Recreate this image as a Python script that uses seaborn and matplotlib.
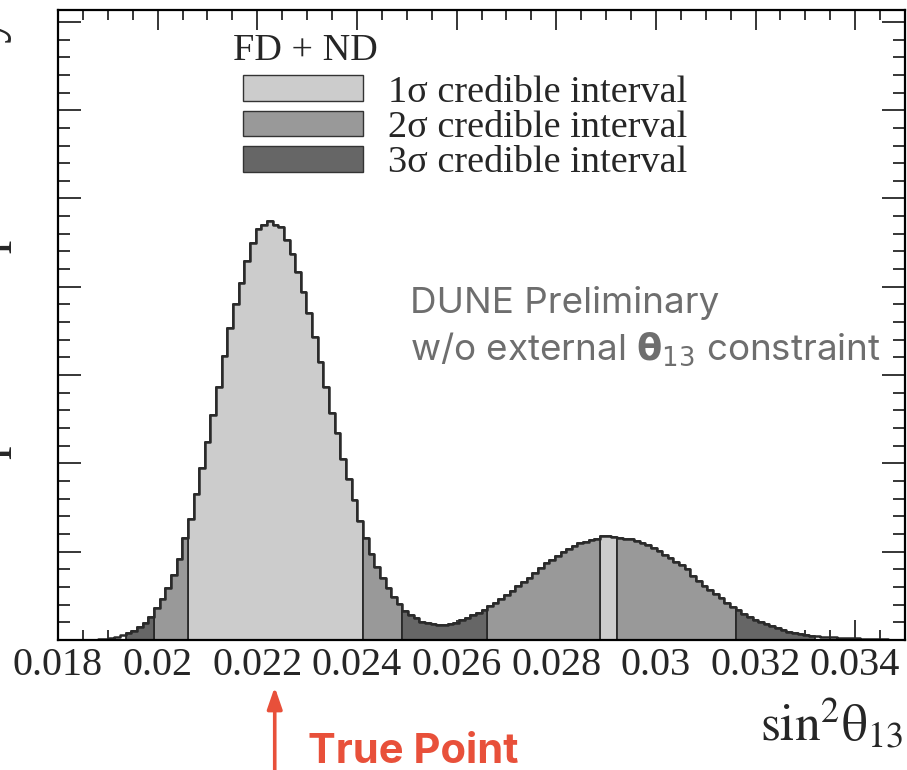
import numpy as np
import pandas as pd
import matplotlib
matplotlib.use("Agg")
import matplotlib.pyplot as plt
import seaborn as sns
from matplotlib.patches import Patch
from matplotlib.ticker import MultipleLocator, FixedLocator
from matplotlib.transforms import blended_transform_factory

# ---------------- data ----------------
X_MIN, X_MAX, N_BINS = 0.018, 0.035, 150

# posterior per bin (arbitrary units)
posterior = [
    0.1, 0.1, 0.1, 0.2, 0.3, 0.4, 0.5, 0.7, 1.0, 1.7,
    3.3, 4.7, 6.7, 9.3, 13.0, 17.3, 23.3, 31.7, 40.7, 52.3,
    64.7, 81.3, 101.7, 121.0, 146.0, 171.7, 198.3, 225.0, 252.7, 284.0,
    311.7, 335.7, 357.3, 379.3, 396.7, 411.0, 415.0, 419.3, 415.0, 412.7,
    400.0, 385.7, 368.3, 348.3, 326.7, 302.7, 277.7, 253.3, 226.7, 206.7,
    181.3, 160.7, 140.5, 119.3, 101.7, 86.0, 73.3, 61.7, 51.7, 43.3,
    35.7, 29.0, 25.0, 21.7, 18.3, 16.7, 15.7, 14.7, 15.0, 16.0,
    17.3, 20.0, 22.3, 25.0, 27.3, 29.7, 34.0, 37.3, 41.3, 45.0,
    49.3, 54.0, 58.0, 62.3, 67.3, 72.0, 76.7, 80.0, 84.0, 87.7,
    90.7, 94.0, 96.7, 98.0, 99.7, 101.3, 104.3, 104.3, 103.3, 102.3,
    101.3, 100.7, 99.0, 97.3, 94.7, 92.3, 89.0, 85.3, 81.7, 78.3,
    75.0, 70.7, 64.5, 59.0, 54.3, 50.0, 46.0, 41.7, 37.3, 32.7,
    30.0, 25.7, 22.7, 20.0, 17.7, 15.7, 14.0, 12.3, 10.0, 8.3,
    7.3, 6.3, 5.3, 4.3, 3.7, 3.2, 2.9, 2.6, 2.3, 2.0,
    1.8, 1.6, 1.4, 1.2, 1.0, 0.8, 0.7, 0.5, 0.4, 0.3,
]

# credible-interval membership, as [start, stop) bin index ranges
sigma1_bins = [(23, 54), (96, 99)]
sigma2_bins = [(17, 23), (54, 61), (76, 96), (99, 120)]
sigma3_bins = [(12, 17), (61, 76), (120, 134)]

level_names = ["1\u03c3 credible interval", "2\u03c3 credible interval", "3\u03c3 credible interval"]
level_colors = ["#cccccc", "#999999", "#666666"]
legend_title = "FD + ND"

x_tick_values = [0.018, 0.020, 0.022, 0.024, 0.026, 0.028, 0.030, 0.032, 0.034]
x_tick_labels = ["0.018", "0.02", "0.022", "0.024", "0.026", "0.028", "0.03", "0.032", "0.034"]
Y_MAJOR = 88.3      # major y tick spacing in posterior units
Y_MAX = 630.0

true_point = 0.02235

# ---------------- build table ----------------
edges = np.linspace(X_MIN, X_MAX, N_BINS + 1)
centers = 0.5 * (edges[:-1] + edges[1:])
level = np.array(["outside"] * N_BINS, dtype=object)
for name, ranges in zip(level_names, [sigma1_bins, sigma2_bins, sigma3_bins]):
    for a, b in ranges:
        level[a:b] = name
df = pd.DataFrame({"sin2th13": centers, "posterior": posterior, "level": level})

# ---------------- style ----------------
sns.set_style("ticks")
plt.rcParams["font.family"] = ["Liberation Serif", "DejaVu Serif"]

W, H = 907, 770
fig = plt.figure(figsize=(W / 100, H / 100), dpi=100)
ax = fig.add_axes([58 / W, (H - 640) / H, (905 - 58) / W, (640 - 10) / H])

EDGE = "#2a2a2a"
hist_kw = dict(x="sin2th13", weights="posterior", bins=N_BINS,
               binrange=(X_MIN, X_MAX), element="step", ax=ax)
for name, color in zip(level_names, level_colors):
    sub = df[df["level"] == name]
    sns.histplot(data=sub, fill=True, color=color, alpha=1.0,
                 edgecolor=EDGE, linewidth=1.3, **hist_kw)

sns.histplot(data=df, fill=False, color=EDGE, linewidth=1.8, **hist_kw)

ax.set_xlim(X_MIN, X_MAX)
ax.set_ylim(0, Y_MAX)
ax.set_xlabel("")
ax.set_ylabel("")

ax.xaxis.set_major_locator(FixedLocator(x_tick_values))
ax.set_xticklabels(x_tick_labels)
ax.xaxis.set_minor_locator(MultipleLocator(0.0005))
ax.yaxis.set_major_locator(MultipleLocator(Y_MAJOR))
ax.yaxis.set_minor_locator(MultipleLocator(Y_MAJOR / 5))

for s in ax.spines.values():
    s.set_visible(True)
    s.set_linewidth(1.6)
    s.set_color("black")

ax.tick_params(which="both", direction="in", top=True, right=True, width=1.1, color="black")
ax.tick_params(axis="x", which="major", length=14.5, labelsize=29, pad=5)
ax.tick_params(axis="x", which="minor", length=7.5)
ax.tick_params(axis="y", which="major", length=16.5, labelleft=False)
ax.tick_params(axis="y", which="minor", length=8.5)

# x-axis title at the end of the axis (ROOT style)
fig.text(903 / W, (H - 741) / H, r"$\mathrm{sin}^{2}\mathrm{\theta}_{13}$",
         ha="right", va="baseline", fontsize=37, math_fontfamily="stix")

# y-axis title, cut by the left border as in the original
fig.text(12 / W, (H - 16) / H, "posterior probability", rotation=90,
         ha="right", va="top", fontsize=39)

# legend (title drawn as its own text, entries as a legend)
fig.text(233 / W, (H - 60) / H, legend_title, fontsize=27.5,
         ha="left", va="baseline")
handles = [Patch(facecolor=c, edgecolor="#333333", linewidth=1.0) for c in level_colors]
leg = ax.legend(handles, level_names, loc="upper left",
                bbox_to_anchor=(243 / W, (H - 75) / H), bbox_transform=fig.transFigure,
                frameon=False, fontsize=27.5,
                handlelength=3.15, handleheight=0.64, handletextpad=0.65,
                labelspacing=0.025, borderpad=0.0, borderaxespad=0.0)

# annotation text
gray = "#6e6e6e"
ax.text(410 / W, (H - 313) / H, "DUNE Preliminary", transform=fig.transFigure,
        fontsize=26.5, color=gray, family="Inter", va="baseline", ha="left")
ax.text(410 / W, (H - 360) / H, r"w/o external $\mathbf{\theta}_{13}$ constraint",
        transform=fig.transFigure, fontsize=26.5, color=gray, family="Inter",
        math_fontfamily="dejavusans", va="baseline", ha="left")

# true point arrow
red = "#e8503a"
tr = blended_transform_factory(ax.transData, fig.transFigure)
ax.annotate("", xy=(true_point, (H - 687) / H), xycoords=tr,
            xytext=(true_point, -0.02), textcoords=tr,
            arrowprops=dict(arrowstyle="-|>,head_length=1.3,head_width=0.45",
                            color=red, lw=2.6, shrinkA=0, shrinkB=0),
            annotation_clip=False)
fig.text(308 / W, (H - 763) / H, "True Point", fontsize=30, fontweight="bold",
         color=red, family="Inter", ha="left", va="baseline")

fig.savefig("out.png", dpi=100)
